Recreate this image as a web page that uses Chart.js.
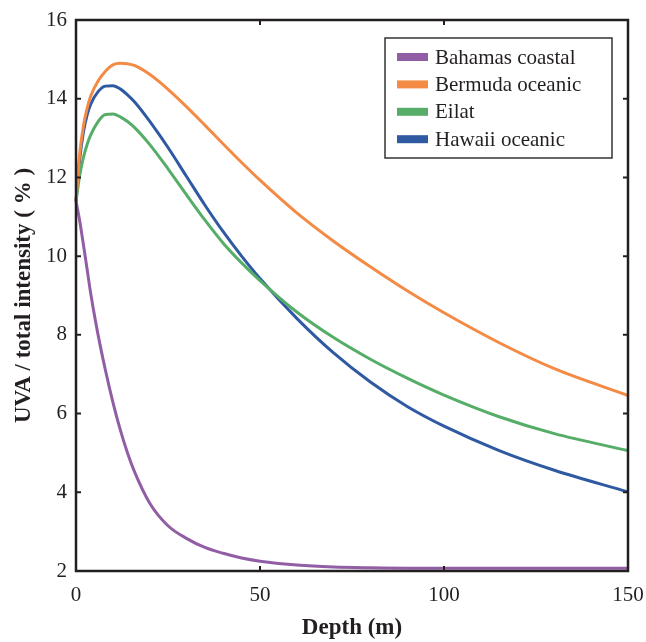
<!DOCTYPE html>
<html>
<head>
<meta charset="utf-8">
<script src="https://cdn.jsdelivr.net/npm/chart.js@4"></script>
<style>
html,body{margin:0;padding:0;background:#fff;}
#wrap{width:646px;height:642px;position:relative;}
</style>
</head>
<body>
<div id="wrap"><canvas id="c" width="646" height="642"></canvas></div>
<script>
const depths  = [0, 1, 2, 3, 4, 6, 8, 10, 12, 14, 16, 20, 25, 30, 35, 40, 45, 50, 60, 70, 80, 90, 100, 115, 130, 150];
const bahamas = [11.4, 10.9, 10.3, 9.68, 9.05, 8.0, 7.1, 6.3, 5.6, 5.0, 4.5, 3.73, 3.15, 2.83, 2.6, 2.45, 2.33, 2.25, 2.15, 2.1, 2.08, 2.07, 2.07, 2.07, 2.07, 2.07];
const bermuda = [11.4, 12.6, 13.3, 13.75, 14.07, 14.45, 14.7, 14.86, 14.9, 14.89, 14.84, 14.62, 14.24, 13.8, 13.33, 12.85, 12.38, 11.93, 11.1, 10.38, 9.73, 9.12, 8.56, 7.8, 7.14, 6.46];
const eilat   = [11.4, 12.05, 12.5, 12.83, 13.08, 13.42, 13.6, 13.61, 13.54, 13.42, 13.26, 12.84, 12.22, 11.56, 10.92, 10.33, 9.83, 9.38, 8.58, 7.93, 7.38, 6.9, 6.47, 5.92, 5.49, 5.06];
const hawaii  = [11.4, 12.45, 13.15, 13.58, 13.86, 14.18, 14.32, 14.33, 14.25, 14.1, 13.91, 13.43, 12.76, 12.03, 11.3, 10.62, 10.0, 9.43, 8.42, 7.54, 6.8, 6.18, 5.68, 5.06, 4.56, 4.01];
const seriesNames = ['Bahamas coastal', 'Bermuda oceanic', 'Eilat', 'Hawaii oceanic'];
const seriesColors = ['#915ea6', '#f38b45', '#55ad68', '#2f5aa2'];
const xTicks = [0, 50, 100, 150];
const yTicks = [2, 4, 6, 8, 10, 12, 14, 16];

const allSeries = [bahamas, bermuda, eilat, hawaii];
const datasets = allSeries.map((vals, i) => ({
  label: seriesNames[i],
  data: depths.map((d, j) => ({x: d, y: vals[j]})),
  borderColor: seriesColors[i],
  backgroundColor: seriesColors[i],
  borderWidth: 3,
  pointRadius: 0,
  fill: false,
  cubicInterpolationMode: 'monotone',
  clip: false
}));

const FONT = '"Liberation Serif", "Times New Roman", serif';

const framePlugin = {
  id: 'frame',
  afterDatasetsDraw(chart) {
    const ctx = chart.ctx;
    const a = chart.chartArea;
    const xs = chart.scales.x, ys = chart.scales.y;
    ctx.save();
    ctx.strokeStyle = '#231f20';
    ctx.lineWidth = 2.5;
    ctx.strokeRect(a.left, a.top, a.right - a.left, a.bottom - a.top);
    ctx.lineWidth = 2;
    const tl = 5;
    xTicks.forEach(v => {
      const px = xs.getPixelForValue(v);
      ctx.beginPath();
      ctx.moveTo(px, a.bottom); ctx.lineTo(px, a.bottom - tl);
      ctx.moveTo(px, a.top); ctx.lineTo(px, a.top + tl);
      ctx.stroke();
    });
    yTicks.forEach(v => {
      const py = ys.getPixelForValue(v);
      ctx.beginPath();
      ctx.moveTo(a.left, py); ctx.lineTo(a.left + tl, py);
      ctx.moveTo(a.right, py); ctx.lineTo(a.right - tl, py);
      ctx.stroke();
    });
    // legend
    const bw = 227, bh = 120;
    const bx = a.right - 16 - bw, by = a.top + 18;
    ctx.fillStyle = '#fff';
    ctx.fillRect(bx, by, bw, bh);
    ctx.strokeStyle = '#333';
    ctx.lineWidth = 1.5;
    ctx.strokeRect(bx, by, bw, bh);
    ctx.font = '21px ' + FONT;
    ctx.textBaseline = 'middle';
    ctx.textAlign = 'left';
    chart.data.datasets.forEach((ds, i) => {
      const cy = by + 19 + i * 27.4;
      ctx.fillStyle = ds.borderColor;
      ctx.fillRect(bx + 12, cy - 4, 31, 8);
      ctx.fillStyle = '#231f20';
      ctx.fillText(ds.label, bx + 50, cy + 1);
    });
    ctx.restore();
  }
};

new Chart(document.getElementById('c'), {
  type: 'line',
  data: { datasets },
  options: {
    responsive: false,
    animation: false,
    events: [],
    layout: { padding: { left: 0, right: 18, top: 20, bottom: 0 } },
    plugins: { legend: { display: false }, tooltip: { enabled: false } },
    scales: {
      x: {
        type: 'linear',
        min: 0, max: 150,
        afterBuildTicks(s) { s.ticks = xTicks.map(v => ({value: v})); },
        afterFit(s) { s.height = 71; s.paddingLeft = 0; s.paddingRight = 0; },
        grid: { display: false, drawTicks: false },
        border: { display: false },
        ticks: { color: '#231f20', font: { family: FONT, size: 21 }, padding: 12, maxRotation: 0 },
        title: { display: true, text: 'Depth (m)', color: '#231f20', font: { family: FONT, size: 23, weight: 'bold' }, padding: { top: 4, bottom: 0 } }
      },
      y: {
        type: 'linear',
        min: 2, max: 16,
        afterBuildTicks(s) { s.ticks = yTicks.map(v => ({value: v})); },
        afterFit(s) { s.width = 76; s.paddingTop = 0; s.paddingBottom = 0; },
        grid: { display: false, drawTicks: false },
        border: { display: false },
        ticks: { color: '#231f20', font: { family: FONT, size: 21 }, padding: 9 },
        title: { display: true, text: 'UVA / total intensity ( % )', color: '#231f20', font: { family: FONT, size: 23, weight: 'bold' }, padding: { top: 10, bottom: 0 } }
      }
    }
  },
  plugins: [framePlugin]
});
</script>
</body>
</html>
